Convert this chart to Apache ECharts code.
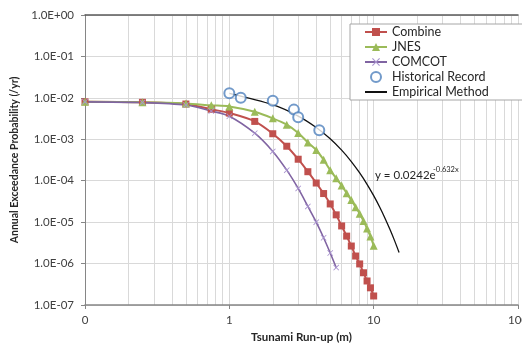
<!DOCTYPE html>
<html>
<head>
<meta charset="utf-8">
<script src="https://cdn.jsdelivr.net/npm/echarts@6/dist/echarts.min.js"></script>
<style>
  html, body { margin: 0; padding: 0; background: #fff; }
  #chart { width: 522px; height: 346px; }
</style>
</head>
<body>
<div id="chart"></div>
<script>
'use strict';
// Tsunami run-up hazard curves — annual exceedance probability vs run-up (log-log)

// ── data ────────────────────────────────────────────────────────────────────
const RUNUP = [0.1, 0.25, 0.5, 0.75, 1, 1.5, 2, 2.5, 3, 3.5, 4, 4.5, 5, 5.5, 6, 6.5, 7, 7.5, 8, 8.5, 9, 9.5, 10];
const COMBINE = [8.0e-3, 7.8e-3, 7.1e-3, 5.3e-3, 4.3e-3, 2.7e-3, 1.36e-3, 6.8e-4, 3.3e-4, 1.65e-4, 8.8e-5, 4.9e-5,
  2.75e-5, 1.5e-5, 8.1e-6, 4.6e-6, 2.65e-6, 1.52e-6, 9.8e-7, 6.0e-7, 3.8e-7, 2.6e-7, 1.65e-7];
const JNES = [8.0e-3, 7.8e-3, 7.3e-3, 6.6e-3, 6.2e-3, 4.6e-3, 3.2e-3, 2.25e-3, 1.42e-3, 8.4e-4, 5.5e-4, 3.2e-4,
  1.8e-4, 1.15e-4, 7.7e-5, 5.0e-5, 3.4e-5, 2.3e-5, 1.6e-5, 1.07e-5, 7.0e-6, 4.5e-6, 2.7e-6];
const COMCOT_X = [0.1, 0.25, 0.5, 0.75, 1, 1.5, 2, 2.5, 3, 3.5, 4, 4.5, 5, 5.5];
const COMCOT = [8.0e-3, 7.7e-3, 6.7e-3, 4.8e-3, 3.6e-3, 1.4e-3, 5.1e-4, 1.8e-4, 6.5e-5, 2.4e-5, 1.0e-5, 4.2e-6, 1.8e-6, 8.0e-7];
const HIST_X = [1.0, 1.2, 2.0, 2.8, 3.0, 4.2];
const HIST_Y = [1.29e-2, 1.0e-2, 8.5e-3, 5.2e-3, 3.4e-3, 1.65e-3];
const EMP_X = [1, 2, 3, 4, 5, 6, 7, 8, 9, 10, 11, 12, 13, 14, 15];
const EMP_Y = [1.29e-2, 6.84e-3, 3.63e-3, 1.93e-3, 1.03e-3, 5.46e-4, 2.90e-4, 1.54e-4, 8.19e-5, 4.36e-5,
  2.32e-5, 1.23e-5, 6.54e-6, 3.48e-6, 1.85e-6];
const MINOR_X = [0.2, 0.3, 0.4, 0.5, 0.6, 0.7, 0.8, 0.9, 2, 3, 4, 5, 6, 7, 8, 9, 20, 30, 40, 50, 60, 70, 80, 90];
const NAMES = ['Combine', 'JNES', 'COMCOT', 'Historical Record', 'Empirical Method'];

const FONT = "Lato, 'Open Sans', sans-serif";
const C = { red: '#C0504D', green: '#9BBB59', purple: '#8064A2', purpleMk: '#A994CF', blue: '#4F81BD', grid: '#D9D9D9', axis: '#868686', text: '#404040' };
const X_MARK = 'path://M0,1L1,0L5,4L9,0L10,1L6,5L10,9L9,10L5,6L1,10L0,9L4,5Z';

function zip(xs, ys) { return xs.map((x, i) => [x, ys[i]]); }
function fmtExp(v) {
  const e = Math.round(Math.log10(v));
  return '1.0E' + (e < 0 ? '-' : '+') + String(Math.abs(e)).padStart(2, '0');
}

const chart = echarts.init(document.getElementById('chart'), null, { renderer: 'canvas' });

// legend entries: the fitted line shows no marker
const legendData = NAMES.map(n => {
  if (n === 'Empirical Method') return { name: n, itemStyle: { opacity: 0 } };
  if (n === 'Historical Record') return { name: n, icon: 'emptyCircle', itemStyle: { borderWidth: 1.5 } };
  return n;
});

chart.setOption({
  animation: false,
  textStyle: { fontFamily: FONT },
  grid: { left: 85, right: 4, top: 15, bottom: 41, outerBoundsMode: 'none' },
  legend: {
    data: legendData, orient: 'vertical', left: 350, top: 24,
    itemWidth: 22, itemHeight: 10, itemGap: 1,
    padding: [1, 40, 1, 14],
    backgroundColor: '#fff', borderColor: '#A6A6A6', borderWidth: 1,
    textStyle: { fontFamily: FONT, fontSize: 12.5, lineHeight: 14, color: '#262626' }
  },
  xAxis: [{
    type: 'log', logBase: 10, min: 0.1, max: 100, splitNumber: 3,
    name: 'Tsunami Run-up (m)', nameLocation: 'middle', nameGap: 20,
    nameTextStyle: { fontFamily: FONT, fontSize: 11.5, fontWeight: 'bold', color: '#262626' },
    axisLine: { lineStyle: { color: C.axis, width: 1.5 } },
    axisTick: { show: true, length: 4, lineStyle: { color: C.axis } },
    axisLabel: { fontFamily: FONT, fontSize: 11.5, color: C.text, margin: 9, formatter: v => v < 1 ? '0' : String(Math.round(v)) },
    splitLine: { show: true, lineStyle: { color: C.grid, width: 1 } }
  }, {
    type: 'log', logBase: 10, min: 0.1, max: 100, position: 'top',
    axisLine: { lineStyle: { color: '#595959', width: 1.5 } },
    axisTick: { show: false }, axisLabel: { show: false }, splitLine: { show: false }
  }],
  yAxis: {
    type: 'log', logBase: 10, min: 1e-7, max: 1, splitNumber: 7,
    name: 'Annual Exceedance Probability (/yr)', nameLocation: 'middle', nameGap: 60,
    nameTextStyle: { fontFamily: FONT, fontSize: 10.5, fontWeight: 'bold', color: '#262626' },
    axisLine: { show: true, lineStyle: { color: C.axis, width: 1 } },
    axisTick: { show: true, length: 4, lineStyle: { color: C.axis } },
    axisLabel: { fontFamily: FONT, fontSize: 11.5, color: C.text, margin: 11, formatter: fmtExp },
    splitLine: { show: true, lineStyle: { color: C.grid, width: 1 } }
  },
  graphic: [
    { type: 'text', left: 375, top: 169, z: 10, style: { text: 'y = 0.0242e', font: '11.5px ' + FONT, fill: '#262626' } },
    { type: 'text', left: 433, top: 166, z: 10, style: { text: '-0.632x', font: '7.5px ' + FONT, fill: '#262626' } }
  ],
  series: [
    { // minor vertical gridlines (log decades 2..9)
      name: '_minor', type: 'line', data: [[0.1, 1e-7]], symbol: 'none', silent: true, z: 0,
      lineStyle: { opacity: 0 },
      markLine: {
        z: 0, silent: true, symbol: 'none', label: { show: false }, animation: false,
        lineStyle: { color: C.grid, type: 'solid', width: 1 },
        data: MINOR_X.map(v => ({ xAxis: v }))
      }
    },
    {
      name: 'Combine', type: 'line', data: zip(RUNUP, COMBINE), smooth: 0.3,
      symbol: 'rect', symbolSize: 7,
      lineStyle: { color: C.red, width: 2 }, itemStyle: { color: C.red }
    },
    {
      name: 'JNES', type: 'line', data: zip(RUNUP, JNES), smooth: 0.3,
      symbol: 'triangle', symbolSize: 8,
      lineStyle: { color: C.green, width: 2 }, itemStyle: { color: C.green }
    },
    {
      name: 'COMCOT', type: 'line', data: zip(COMCOT_X, COMCOT), smooth: 0.3,
      symbol: X_MARK, symbolSize: 6,
      lineStyle: { color: C.purple, width: 1.6 }, itemStyle: { color: C.purpleMk }
    },
    {
      name: 'Empirical Method', type: 'line', data: zip(EMP_X, EMP_Y), smooth: 0.3,
      symbol: 'none', lineStyle: { color: '#111', width: 1.3 }, itemStyle: { color: '#111' }
    },
    {
      name: 'Historical Record', type: 'scatter', data: zip(HIST_X, HIST_Y), z: 4,
      symbol: 'emptyCircle', symbolSize: 10,
      itemStyle: { color: C.blue, borderColor: C.blue, borderWidth: 1.5 }
    }
  ]
});
</script>
</body>
</html>
